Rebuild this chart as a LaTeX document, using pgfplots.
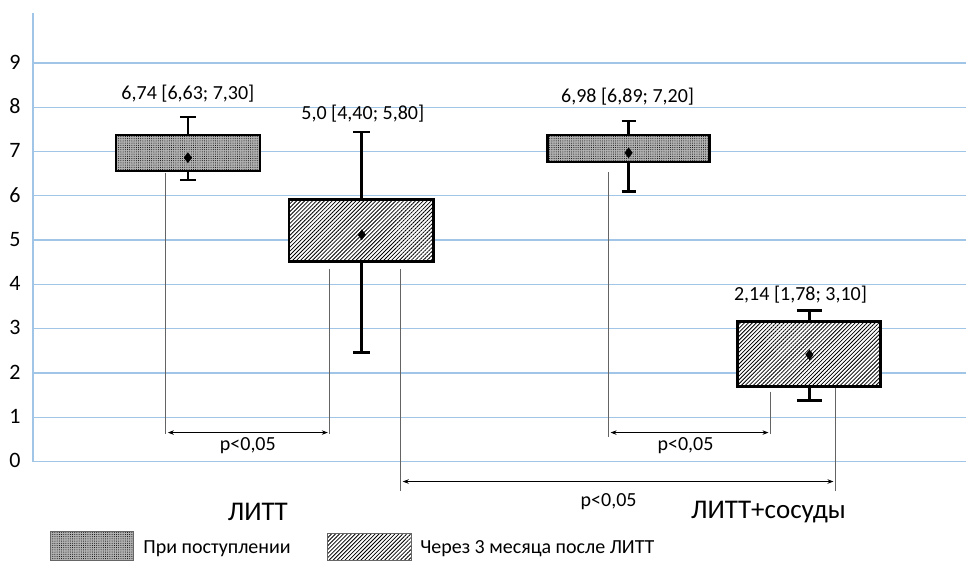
\documentclass[border=0pt]{standalone}
\usepackage{pgfplots}
\pgfplotsset{compat=1.18}
\usetikzlibrary{patterns.meta,arrows.meta}
\usepackage{fontspec}
\setmainfont{Carlito}
\definecolor{gridblue}{RGB}{160,197,230}
\definecolor{vline}{RGB}{100,100,100}
\tikzset{
  dotbox/.style={preaction={fill=black!30}, pattern={Dots[distance=2.2pt, radius=0.5pt]}, pattern color=black},
  hatchbox/.style={preaction={fill=white}, pattern={Lines[angle=45, distance=2.8pt, line width=0.8pt]}, pattern color=black},
  parr/.style={{Stealth[length=6pt,width=4.5pt]}-{Stealth[length=6pt,width=4.5pt]}, line width=0.8pt, black},
  vl/.style={vline, line width=0.9pt},
  lab/.style={font=\fontsize{20}{22}\selectfont},
  cat/.style={font=\fontsize{27}{30}\selectfont},
}
\begin{document}
\begin{tikzpicture}
\begin{axis}[
  scale only axis, width=934pt, height=449pt,
  xmin=33, xmax=967, ymin=0, ymax=10.13,
  axis x line=none, axis y line=left,
  axis line style={-, draw=gridblue, line width=1.5pt},
  ytick={0,1,2,3,4,5,6,7,8,9}, ymajorgrids,
  major grid style={gridblue, line width=1.3pt},
  major tick length=0pt,
  /pgf/number format/assume math mode=true,
  yticklabel style={font=\fontsize{22}{24}\selectfont, xshift=-9pt, yshift=1pt},
  clip=false,
]
% invisible frame for the page size
\path (axis cs:0,10.42) rectangle (axis cs:967,-2.233);

% ---- ЛИТТ, при поступлении: whiskers 6.36 / 7.78, box 6.56 - 7.37, centre 6.86
\addplot[black, line width=2.6pt] coordinates {(188,6.56) (188,6.36)};
\addplot[black, line width=2.6pt] coordinates {(180,6.36) (196,6.36)};
\addplot[black, line width=2.6pt] coordinates {(188,7.37) (188,7.78)};
\addplot[black, line width=2.6pt] coordinates {(180,7.78) (196,7.78)};
\addplot[black, line width=2.6pt, dotbox] coordinates {(116,6.56) (260,6.56) (260,7.37) (116,7.37)} -- cycle;

% ---- ЛИТТ, через 3 месяца: whiskers 2.46 / 7.44, box 4.51 - 5.91, centre 5.12
\addplot[black, line width=2.6pt] coordinates {(362,4.51) (362,2.46)};
\addplot[black, line width=2.6pt] coordinates {(353.5,2.46) (370.5,2.46)};
\addplot[black, line width=2.6pt] coordinates {(362,5.91) (362,7.44)};
\addplot[black, line width=2.6pt] coordinates {(353.5,7.44) (370.5,7.44)};
\addplot[black, line width=2.6pt, hatchbox] coordinates {(289,4.51) (434,4.51) (434,5.91) (289,5.91)} -- cycle;

% ---- ЛИТТ+сосуды, при поступлении: whiskers 6.09 / 7.69, box 6.76 - 7.37, centre 6.97
\addplot[black, line width=2.6pt] coordinates {(629,6.76) (629,6.09)};
\addplot[black, line width=2.6pt] coordinates {(622,6.09) (636,6.09)};
\addplot[black, line width=2.6pt] coordinates {(629,7.37) (629,7.69)};
\addplot[black, line width=2.6pt] coordinates {(622,7.69) (636,7.69)};
\addplot[black, line width=2.6pt, dotbox] coordinates {(548,6.76) (710,6.76) (710,7.37) (548,7.37)} -- cycle;

% ---- ЛИТТ+сосуды, через 3 месяца: whiskers 1.38 / 3.41, box 1.69 - 3.16, centre 2.41
\addplot[black, line width=2.6pt] coordinates {(810,1.69) (810,1.38)};
\addplot[black, line width=2.6pt] coordinates {(797.5,1.38) (822.5,1.38)};
\addplot[black, line width=2.6pt] coordinates {(810,3.16) (810,3.41)};
\addplot[black, line width=2.6pt] coordinates {(797.5,3.41) (822.5,3.41)};
\addplot[black, line width=2.6pt, hatchbox] coordinates {(738,1.69) (881,1.69) (881,3.16) (738,3.16)} -- cycle;

% centre markers
\addplot[only marks, mark=diamond*, mark size=5pt, black] coordinates {(188,6.86) (362,5.12) (629,6.97) (810,2.41)};

% annotations
\node[lab] at (axis cs:188,8.30) {6,74 [6,63; 7,30]};
\node[lab] at (axis cs:363,7.85) {5,0 [4,40; 5,80]};
\node[lab] at (axis cs:628,8.23) {6,98 [6,89; 7,20]};
\node[lab] at (axis cs:801,3.76) {2,14 [1,78; 3,10]};

% significance brackets
\draw[vl] (axis cs:166,6.52) -- (axis cs:166,0.63);
\draw[vl] (axis cs:330,4.35) -- (axis cs:330,0.63);
\draw[parr] (axis cs:168,0.654) -- (axis cs:328,0.654);
\node[lab] at (axis cs:248,0.36) {p<0,05};

\draw[vl] (axis cs:401,4.35) -- (axis cs:401,-0.654);
\draw[vl] (axis cs:836,1.65) -- (axis cs:836,-0.654);
\draw[parr] (axis cs:403,-0.451) -- (axis cs:834,-0.451);
\node[lab] at (axis cs:609,-0.90) {p<0,05};

\draw[vl] (axis cs:609,6.54) -- (axis cs:609,0.56);
\draw[vl] (axis cs:771,1.58) -- (axis cs:771,0.63);
\draw[parr] (axis cs:611,0.654) -- (axis cs:769,0.654);
\node[lab] at (axis cs:686,0.36) {p<0,05};

% category labels
\node[cat] at (axis cs:258,-1.13) {ЛИТТ};
\node[cat] at (axis cs:769,-1.15) {ЛИТТ+сосуды};

% legend
\draw[dotbox, draw=black!60, line width=0.8pt] (axis cs:50,-1.579) rectangle (axis cs:133,-2.233);
\node[lab, anchor=west] at (axis cs:140,-1.96) {При поступлении};
\draw[hatchbox, draw=black!60, line width=0.8pt] (axis cs:328,-1.62) rectangle (axis cs:412,-2.233);
\node[lab, anchor=west] at (axis cs:417,-1.96) {Через 3 месяца после ЛИТТ};
\end{axis}
\end{tikzpicture}
\end{document}
